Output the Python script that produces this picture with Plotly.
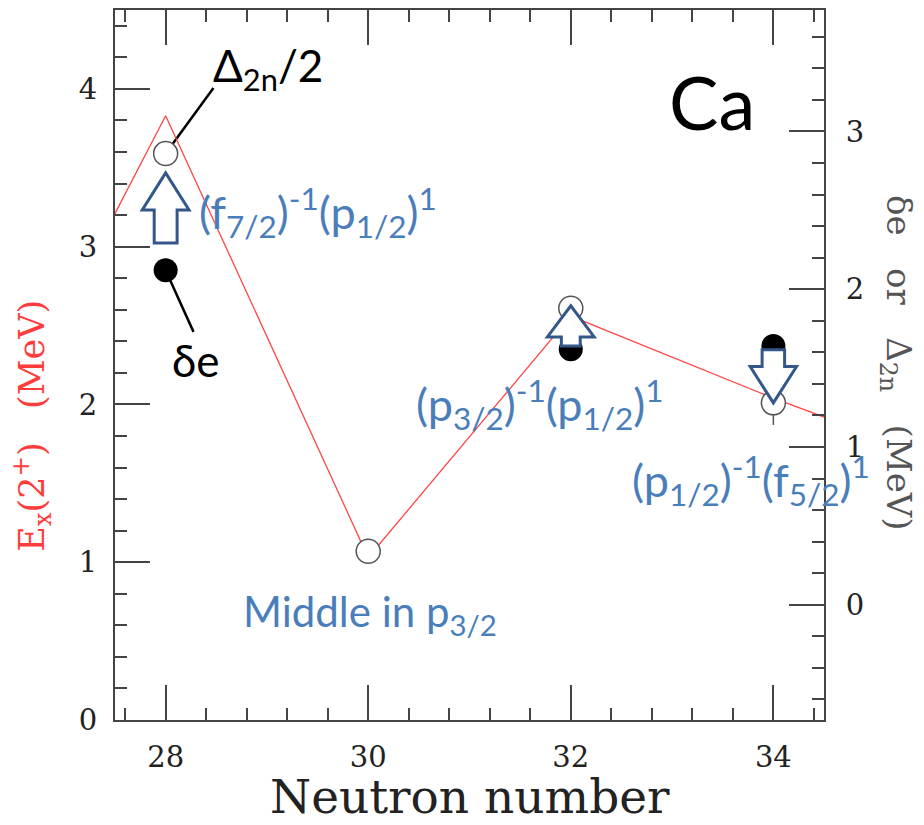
import plotly.graph_objects as go

# ---- data ----
N_ex = [26, 28, 30, 32, 34, 36]
Ex_2plus = [1.35, 3.83, 1.03, 2.56, 2.04, 1.56]          # left axis (MeV)

N_d2n = [28, 30, 32, 34]
d2n_half = [2.86, 0.34, 1.88, 1.28]                       # right axis (MeV)
d2n_err = [0, 0, 0, 0.14]

N_de = [28, 32, 34]
de = [2.12, 1.62, 1.64]                                   # right axis (MeV)

x_ticks = [28, 30, 32, 34]

# arrows: (N, from, to, head length, shaft half-width, head half-width) in right-axis units
arrows = [(28, 2.294, 2.738, 0.235, 0.113, 0.231),
          (32, 1.641, 1.895, 0.197, 0.093, 0.231),
          (34, 1.616, 1.280, 0.230, 0.111, 0.229)]

SERIF = "DejaVu Serif"
SANS = "Lato"
BLUE = "#4A7EBB"
ARROW = "#34578A"
AX = "#444444"
SP = "&nbsp;&nbsp;&nbsp;"

fig = go.Figure()
fig.add_trace(go.Scatter(x=N_ex, y=Ex_2plus, mode="lines",
                         line=dict(color="rgb(255,70,70)", width=1.3),
                         yaxis="y", showlegend=False, hoverinfo="skip"))
fig.add_trace(go.Scatter(x=N_d2n, y=d2n_half, mode="markers", yaxis="y2",
                         error_y=dict(type="data", array=d2n_err, visible=True,
                                      color="#555", thickness=1.5, width=0),
                         marker=dict(symbol="circle", size=24, color="white",
                                     line=dict(color="#555", width=1.5)),
                         showlegend=False))
fig.add_trace(go.Scatter(x=N_de, y=de, mode="markers", yaxis="y2",
                         marker=dict(symbol="circle", size=24, color="black",
                                     line=dict(color="black", width=0)),
                         showlegend=False))

shapes = []
# leader lines
shapes.append(dict(type="line", xref="x", yref="y2", x0=N_d2n[0], y0=d2n_half[0],
                   x1=28.472, y1=3.276, line=dict(color="black", width=2.5), layer="below"))
shapes.append(dict(type="line", xref="x", yref="y2", x0=N_de[0], y0=de[0],
                   x1=28.275, y1=1.73, line=dict(color="black", width=2.5), layer="below"))
for (n, ya, yb, h, ws, wh) in arrows:
    s = 1 if yb > ya else -1
    yh = yb - s * h
    path = (f"M {n-ws},{ya} L {n-ws},{yh} L {n-wh},{yh} L {n},{yb} "
            f"L {n+wh},{yh} L {n+ws},{yh} L {n+ws},{ya} Z")
    shapes.append(dict(type="path", xref="x", yref="y2", path=path,
                       fillcolor="white", line=dict(color=ARROW, width=3), layer="above"))

annotations = [
    dict(text="Ca", x=33.39, y=3.92, xref="x", yref="y", showarrow=False,
         font=dict(family=SANS, size=74, color="black"), xanchor="center", yanchor="middle"),
    dict(text="Δ<sub>2n</sub>/2", x=28.45, y=4.13, xref="x", yref="y", showarrow=False,
         font=dict(family=SANS, size=44, color="black"), xanchor="left", yanchor="middle"),
    dict(text="δe", x=28.04, y=2.28, xref="x", yref="y", showarrow=False,
         font=dict(family=SANS, size=44, color="black"), xanchor="left", yanchor="middle"),
    dict(text="(f<sub>7/2</sub>)<sup>-1</sup>(p<sub>1/2</sub>)<sup>1</sup>", x=28.31, y=3.22,
         xref="x", yref="y", showarrow=False, font=dict(family=SANS, size=45, color=BLUE),
         xanchor="left", yanchor="middle"),
    dict(text="(p<sub>3/2</sub>)<sup>-1</sup>(p<sub>1/2</sub>)<sup>1</sup>", x=30.45, y=2.0,
         xref="x", yref="y", showarrow=False, font=dict(family=SANS, size=45, color=BLUE),
         xanchor="left", yanchor="middle"),
    dict(text="(p<sub>1/2</sub>)<sup>-1</sup>(f<sub>5/2</sub>)<sup>1</sup>", x=32.58, y=1.52,
         xref="x", yref="y", showarrow=False, font=dict(family=SANS, size=45, color=BLUE),
         xanchor="left", yanchor="middle"),
    dict(text="Middle in p<sub>3/2</sub>", x=28.74, y=0.67, xref="x", yref="y", showarrow=False,
         font=dict(family=SANS, size=42, color=BLUE), xanchor="left", yanchor="middle"),
    # axis titles
    dict(text="E<sub>x</sub>(2<sup>+</sup>)" + SP + "(MeV)", x=32, y=425, xref="paper", yref="paper",
         showarrow=False, textangle=-90, font=dict(family=SERIF, size=35, color="rgb(255,60,60)"),
         xanchor="center", yanchor="middle"),
    dict(text="δe" + SP + "or" + SP + "Δ<sub>2n</sub>" + SP + "(MeV)", x=897, y=362,
         xref="paper", yref="paper",
         showarrow=False, textangle=90, font=dict(family=SERIF, size=34, color="#555"),
         xanchor="center", yanchor="middle"),
    dict(text="Neutron number", x=470, y=797, xref="paper", yref="paper",
         showarrow=False, font=dict(family=SERIF, size=47, color="#222"),
         xanchor="center", yanchor="middle"),
]

# convert pixel positions of paper annotations to paper fractions
L, R, T, B = 115, 100, 8, 105
W, H = 924, 825
pw, ph = W - L - R, H - T - B
for a in annotations:
    if a["xref"] == "paper":
        a["x"] = (a["x"] - L) / pw
        a["y"] = (H - B - a["y"]) / ph

fig.update_layout(
    width=W, height=H, margin=dict(l=L, r=R, t=T, b=B, pad=0),
    paper_bgcolor="white", plot_bgcolor="white",
    font=dict(family=SERIF, color="#222"),
    shapes=shapes, annotations=annotations, showlegend=False,
    xaxis=dict(range=[27.5, 34.5], tickvals=x_ticks, ticks="inside", ticklen=35,
               tickwidth=1.5, tickcolor=AX, showline=True, linecolor=AX, linewidth=2,
               mirror="ticks", showgrid=False, zeroline=False,
               minor=dict(tick0=28, dtick=0.4, ticks="inside", ticklen=12,
                          tickwidth=1.5, tickcolor=AX, showgrid=False),
               tickfont=dict(family=SERIF, size=29, color="#222"), ticklabelstandoff=10),
    yaxis=dict(range=[0, 4.5], tick0=0, dtick=1, ticks="inside", ticklen=35,
               tickwidth=1.5, tickcolor=AX, showline=True, linecolor=AX, linewidth=2,
               showgrid=False, zeroline=False,
               minor=dict(dtick=0.2, ticks="inside", ticklen=12, tickwidth=1.5,
                          tickcolor=AX, showgrid=False),
               tickfont=dict(family=SERIF, size=29, color="#222"), ticklabelstandoff=10),
    yaxis2=dict(range=[-0.73, 3.77], overlaying="y", side="right", tick0=0, dtick=1,
                ticks="inside", ticklen=35, tickwidth=1.5, tickcolor=AX, showline=True,
                linecolor=AX, linewidth=2, showgrid=False, zeroline=False,
                minor=dict(dtick=0.2, ticks="inside", ticklen=12, tickwidth=1.5,
                           tickcolor=AX, showgrid=False),
                tickfont=dict(family=SERIF, size=29, color="#222"), ticklabelstandoff=14),
)

fig.write_html("out.html")
